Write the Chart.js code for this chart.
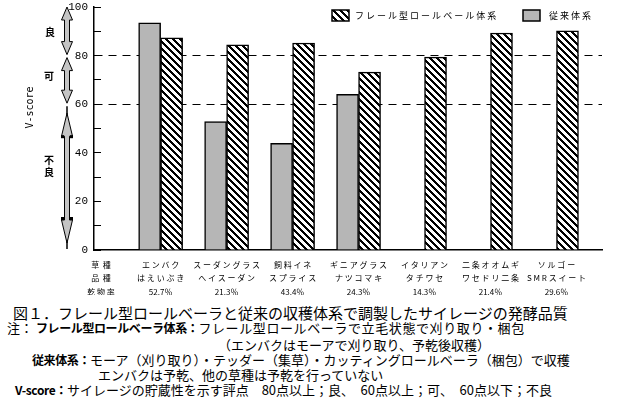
<!DOCTYPE html>
<html lang="ja">
<head>
<meta charset="utf-8">
<script src="https://cdn.jsdelivr.net/npm/chart.js@4.4.1/dist/chart.umd.min.js"></script>
<style>
body { margin: 0; background: #fff; width: 620px; height: 402px; overflow: hidden; position: relative; font-family: "Noto Sans CJK JP", sans-serif; color: #000; }
#wrap { position: absolute; left: 0; top: 0; width: 620px; height: 295px; }
.cap { position: absolute; white-space: nowrap; line-height: 1; font-size: 13px; }
.cap b { font-size: 12px; letter-spacing: -0.4px; }
</style>
</head>
<body>
<div id="wrap"><canvas id="vChart" width="620" height="295"></canvas></div>
<div class="cap" style="left:13px; top:305px; font-size:15px;">図１．フレール型ロールベーラと従来の収穫体系で調製したサイレージの発酵品質</div>
<div class="cap" style="left:7px; top:321px;">注：<b style="margin-left:3px">フレール型ロールベーラ体系：</b><span style="letter-spacing:0.6px">フレール型ロールベーラで立毛状態で刈り取り・梱包</span></div>
<div class="cap" style="left:218px; top:338px;">（エンバクはモーアで刈り取り、予乾後収穫）</div>
<div class="cap" style="left:32px; top:353px;"><b>従来体系：</b>モーア（刈り取り）・テッダー（集草）・カッティングロールベーラ（梱包）で収穫</div>
<div class="cap" style="left:98px; top:368px;">エンバクは予乾、他の草種は予乾を行っていない</div>
<div class="cap" style="left:15px; top:383px;"><b>V-score：</b>サイレージの貯蔵性を示す評点　80点以上；良、　60点以上；可、　60点以下；不良</div>
<script>
// 草種・品種・乾物率
const grassTypes = ["エンバク", "スーダングラス", "飼料イネ", "ギニアグラス", "イタリアン", "二条オオムギ", "ソルゴー"];
const varieties = ["はえいぶき", "ヘイスーダン", "スプライス", "ナツコマキ", "タチワセ", "ワセドリ二条", "SMRスイート"];
const dryMatter = ["52.7％", "21.3％", "43.4％", "24.3％", "14.3％", "21.4％", "29.6％"];
const rowHeads = ["草  種", "品  種", "乾 物 率"];

// V-score
const flailScores = [87.3, 84.4, 85.2, 73.2, 79.4, 89.3, 90.2];
const conventionalScores = [93.5, 52.8, 43.9, 64.1, null, null, null];
const seriesNames = ["フレール型ロールベール体系", "従来体系"];

// 評価区分
const zoneLimits = [100, 80, 60, 0];
const zoneNames = ["良", "可", "不良"];

const spaced = s => Array.from(s).join(" ");

function makeHatch() {
    const size = 7;
    const tile = document.createElement("canvas");
    tile.width = size;
    tile.height = size;
    const tctx = tile.getContext("2d");
    const img = tctx.createImageData(size, size);
    for (let y = 0; y < size; y++) {
        for (let x = 0; x < size; x++) {
            const on = (((x - y) % size) + size) % size < 3;
            const k = (y * size + x) * 4;
            const c = on ? 0 : 255;
            img.data[k] = c;
            img.data[k + 1] = c;
            img.data[k + 2] = c;
            img.data[k + 3] = 255;
        }
    }
    tctx.putImageData(img, 0, 0);
    return tctx.createPattern(tile, "repeat");
}

const ctx = document.getElementById("vChart");
const hatch = makeHatch();

function doubleArrow(c, x, yTop, yBot, head) {
    const hw = 5.5;
    const sw = 2.5;
    c.beginPath();
    c.moveTo(x, yTop);
    c.lineTo(x + hw, yTop + head);
    c.lineTo(x + sw, yTop + head);
    c.lineTo(x + sw, yBot - head);
    c.lineTo(x + hw, yBot - head);
    c.lineTo(x, yBot);
    c.lineTo(x - hw, yBot - head);
    c.lineTo(x - sw, yBot - head);
    c.lineTo(x - sw, yTop + head);
    c.lineTo(x - hw, yTop + head);
    c.closePath();
    c.fillStyle = "#c4c4c4";
    c.fill();
    c.strokeStyle = "#000";
    c.lineWidth = 1;
    c.stroke();
}

const sideNotes = {
    id: "sideNotes",
    afterDraw(chart) {
        const c = chart.ctx;
        const ys = chart.scales.y;
        const ax = 67;
        c.save();

        // arrows for 良 / 可 / 不良
        for (let i = 0; i < zoneNames.length; i++) {
            const top = ys.getPixelForValue(zoneLimits[i]) + (i === 0 ? 0 : 2);
            const bot = ys.getPixelForValue(zoneLimits[i + 1]) - 1;
            if (i < 2) {
                doubleArrow(c, ax, top, bot, 13);
            } else {
                c.strokeStyle = "#000";
                c.lineWidth = 1.5;
                c.beginPath();
                c.moveTo(ax, top);
                c.lineTo(ax, bot);
                c.stroke();
                doubleArrow(c, ax, top + 7, bot - 6, 23);
                c.fillStyle = "#000";
                c.fillRect(ax - 6, top + 29, 3, 3);
                c.fillRect(ax + 3, top + 29, 3, 3);
                c.fillRect(ax - 6, bot - 32, 3, 3);
                c.fillRect(ax + 3, bot - 32, 3, 3);
            }
        }

        c.fillStyle = "#000";
        c.font = "bold 10px 'Noto Sans CJK JP'";
        c.textAlign = "center";
        c.textBaseline = "middle";
        c.fillText(zoneNames[0], 50, ys.getPixelForValue(89.5));
        c.fillText(zoneNames[1], 49, ys.getPixelForValue(71.5));
        const bad = Array.from(zoneNames[2]);
        c.fillText(bad[0], 49, ys.getPixelForValue(37));
        c.fillText(bad[1], 49, ys.getPixelForValue(32));

        // axis title
        c.save();
        c.translate(30, (ys.top + ys.bottom) / 2 - 21);
        c.rotate(-Math.PI / 2);
        c.font = "10px 'DejaVu Sans Mono'";
        c.fillText("V-score", 0, 0);
        c.restore();

        // legend
        const ds = chart.data.datasets;
        const items = [
            { d: ds[1], bx: 332, tx: 355 },
            { d: ds[0], bx: 523, tx: 549 }
        ];
        c.font = "9px 'Noto Sans CJK JP'";
        c.textAlign = "left";
        items.forEach(it => {
            c.fillStyle = it.d.backgroundColor;
            c.fillRect(it.bx, 10, 17, 11);
            c.strokeStyle = "#000";
            c.lineWidth = 1.5;
            c.strokeRect(it.bx, 10, 17, 11);
            c.fillStyle = "#000";
            c.fillText(spaced(it.d.label), it.tx, 16);
        });

        c.restore();
    }
};

new Chart(ctx, {
    type: "bar",
    data: {
        datasets: [
            {
                label: seriesNames[1],
                data: conventionalScores
                    .map((v, i) => ({ x: i, y: v }))
                    .filter(p => p.y !== null),
                backgroundColor: "#b6b6b6",
                borderColor: "#000",
                borderWidth: 1.5
            },
            {
                label: seriesNames[0],
                data: flailScores.map((v, i) => ({ x: i, y: v })),
                backgroundColor: hatch,
                borderColor: "#000",
                borderWidth: 1.5
            }
        ]
    },
    options: {
        responsive: false,
        animation: false,
        barThickness: 22,
        layout: { padding: { top: 7, right: 18, left: 0, bottom: 0 } },
        plugins: {
            legend: { display: false },
            tooltip: { enabled: false }
        },
        scales: {
            x: {
                type: "linear",
                min: -1.01,
                max: 6.69,
                offset: false,
                bounds: "data",
                grid: { display: false, offset: false },
                border: { display: true, color: "#000", width: 1.5 },
                afterBuildTicks: scale => {
                    scale.ticks = [-0.905, 0, 1, 2, 3, 4, 5, 6].map(v => ({ value: v }));
                },
                afterFit: scale => { scale.height = 45; },
                ticks: {
                    autoSkip: false,
                    maxRotation: 0,
                    padding: 0,
                    color: "#000",
                    font: { family: "'Noto Sans CJK JP'", size: 8, lineHeight: 1.69 },
                    callback: (value, index) => {
                        if (index === 0) return rowHeads;
                        const i = index - 1;
                        return [spaced(grassTypes[i]), spaced(varieties[i]), dryMatter[i]];
                    }
                }
            },
            y: {
                min: 0,
                max: 100,
                afterFit: scale => {
                    scale.width = 94;
                    scale.paddingTop = 4;
                    scale.paddingBottom = 4;
                },
                border: { display: true, color: "#000", width: 1.5, dash: [8, 6] },
                grid: {
                    drawOnChartArea: true,
                    color: c => (c.tick && (c.tick.value === 60 || c.tick.value === 80)) ? "#000" : "rgba(0,0,0,0)",
                    lineWidth: 1,
                    tickColor: "#000",
                    tickLength: -7,
                    tickWidth: 1,
                    tickBorderDash: []
                },
                ticks: {
                    stepSize: 10,
                    padding: 13,
                    color: "#000",
                    font: { family: "'Liberation Mono'", size: 11 },
                    callback: v => (v % 20 === 0 ? v : "")
                }
            }
        }
    },
    plugins: [sideNotes]
});
</script>
</body>
</html>
